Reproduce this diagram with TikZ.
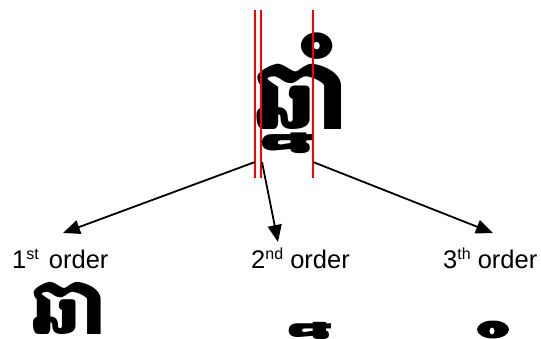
\documentclass[tikz,border=0pt]{standalone}
\usepackage{fontspec}
\setmainfont{Liberation Sans}
\newfontfamily\khmerfont[Script=Khmer]{Battambang}
\usetikzlibrary{arrows.meta}

% superscript ordinal suffix
\newcommand\ordsuffix[1]{\raisebox{0.36em}{\fontsize{16}{16}\selectfont #1}}
% Khmer text in the glyph size used here
\newcommand\khmerbig[1]{{\khmerfont\bfseries\fontsize{99}{99}\selectfont #1}}

\tikzset{
  cutline/.style={draw=red, line width=2pt},
  pointer/.style={draw=black, line width=1.8pt, -{Triangle[length=17pt,width=14pt]}},
  label/.style={font=\fontsize{25.5}{26}\selectfont, anchor=base west, inner sep=0pt},
  glyph/.style={anchor=base west, inner sep=0pt, transform shape}
}

\begin{document}
\begin{tikzpicture}[x=1pt,y=-1pt]
\useasboundingbox (0,0) rectangle (541,339);

% whole syllable, baseline at y = 130
\node[glyph] (syl) at (254,130) {\khmerbig{ឆ្នាំ}};

% first order: the main line (consonant with its vowel sign)
\begin{scope}[shift={(67,281)}, scale=0.8, shift={(-299,-63.5)}]
  \node[glyph] (first) at (254,130) {\khmerbig{ឆា}};
\end{scope}
% second order: the subscript below the line, on a no-break space as its base
\begin{scope}[shift={(321,340)}, scale=0.84]
  \node[inner sep=0pt, anchor=south, transform shape] (second) at (0,0) {\khmerbig{^^^^00a0្ន}};
\end{scope}
% third order: the ring above the line
\fill[even odd rule] (493,329.5) ellipse [x radius=16, y radius=9]
                     (492,331) ellipse [x radius=2.6, y radius=3.6];

% cut lines between the orders
\coordinate (c1top) at (255,10);  \coordinate (c1bot) at (255,178);
\coordinate (c2top) at (261,10);  \coordinate (c2bot) at (261,178);
\coordinate (c3top) at (313,10);  \coordinate (c3bot) at (313,178);
\draw[cutline] (c1top) -- (c1bot);
\draw[cutline] (c2top) -- (c2bot);
\draw[cutline] (c3top) -- (c3bot);

% arrows to the three orders
\coordinate (s1) at (255,162);
\coordinate (s2) at (262,162);
\coordinate (s3) at (313,162);
\coordinate (t1) at (63,233);
\coordinate (t2) at (278,242);
\coordinate (t3) at (493,233);
\draw[pointer] (s1) -- (t1);
\draw[pointer] (s2) -- (t2);
\draw[pointer] (s3) -- (t3);

\node[label] (o1) at (12,269) {1\ordsuffix{st}\hspace{3pt} order};
\node[label] (o2) at (251,269) {2\ordsuffix{nd} order};
\node[label] (o3) at (443,269) {3\ordsuffix{th} order};
\end{tikzpicture}
\end{document}
